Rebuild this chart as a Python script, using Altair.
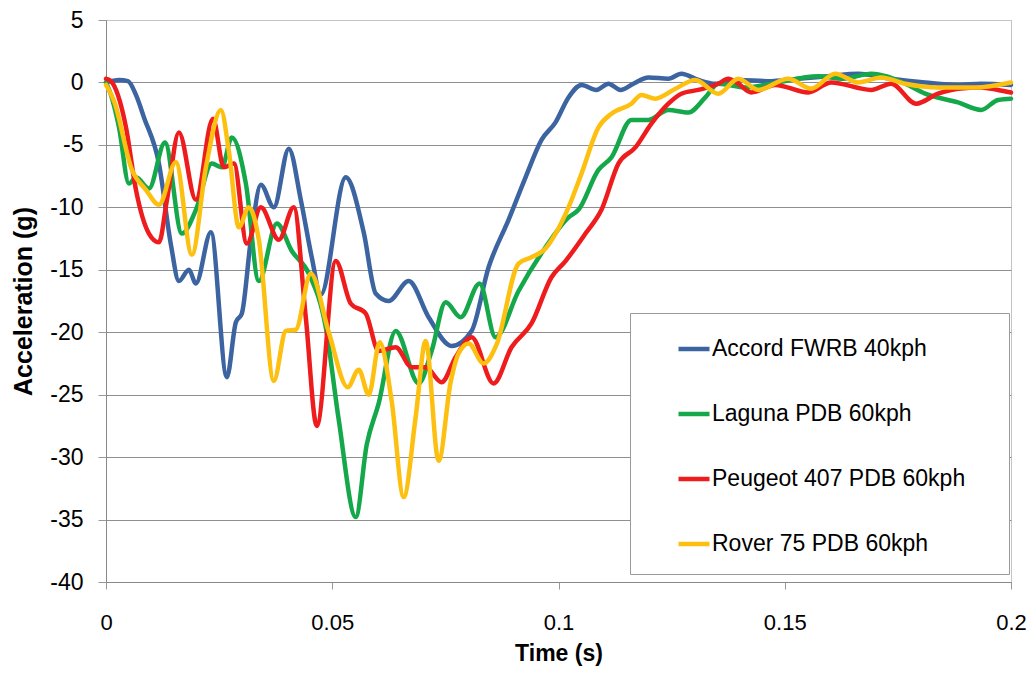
import altair as alt
import pandas as pd

SERIES = ["Accord FWRB 40kph", "Laguna PDB 60kph", "Peugeot 407 PDB 60kph", "Rover 75 PDB 60kph"]
COLORS = ["#3B64A0", "#14A84B", "#EE1C1C", "#FDC010"]

# Accord FWRB 40kph
accord_t = [0, 0.00287, 0.00486, 0.00662, 0.00839, 0.01170, 0.01435, 0.01611, 0.01832, 0.01987,
            0.02318, 0.02671, 0.02870, 0.03002, 0.03201, 0.03422, 0.03709, 0.04040, 0.04305, 0.04547,
            0.04746, 0.05298, 0.05695, 0.05960, 0.06247, 0.06689, 0.07130, 0.07638, 0.08079, 0.08455,
            0.08896, 0.09272, 0.09625, 0.09934, 0.10221, 0.10508, 0.10839, 0.11104, 0.11369, 0.11656,
            0.11987, 0.12428, 0.12715, 0.13090, 0.13466, 0.13973, 0.14636, 0.15298, 0.15960, 0.16622,
            0.17351, 0.18102, 0.18830, 0.19338, 0.20000]
accord_a = [0, 0.2, 0.1, -1.0, -2.8, -6.5, -13.0, -15.9, -15.0, -16.1,
            -12.0, -23.6, -19.2, -18.5, -12.6, -8.2, -10.0, -5.3, -9.4, -14.0,
            -17.0, -7.6, -12.0, -16.9, -17.5, -15.9, -18.8, -21.1, -19.9, -14.8,
            -11.0, -7.6, -4.6, -3.2, -1.2, -0.2, -0.6, -0.1, -0.6, -0.1,
            0.4, 0.3, 0.7, 0.2, -0.1, 0.2, 0.1, 0.3, 0.5, 0.7,
            0.3, 0.0, -0.2, -0.1, -0.2]

# Laguna PDB 60kph
laguna_t = [0, 0.00110, 0.00287, 0.00508, 0.00662, 0.00949, 0.01302, 0.01678, 0.01987, 0.02340,
            0.02561, 0.02781, 0.03091, 0.03378, 0.03775, 0.04106, 0.04481, 0.04857, 0.05143, 0.05519,
            0.05762, 0.06026, 0.06402, 0.06909, 0.07196, 0.07506, 0.07837, 0.08256, 0.08609, 0.09117,
            0.09713, 0.10221, 0.10441, 0.10883, 0.11170, 0.11611, 0.11987, 0.12428, 0.12870, 0.13245,
            0.13532, 0.14128, 0.14702, 0.15739, 0.16291, 0.16909, 0.17660, 0.18102, 0.18830, 0.19338,
            0.19713, 0.20000]
laguna_a = [0, -1.0, -3.6, -8.1, -7.6, -8.5, -4.8, -12.1, -10.2, -6.5,
            -6.8, -4.4, -8.1, -15.9, -11.3, -13.5, -15.3, -19.6, -27.0, -34.8,
            -29.0, -25.7, -19.9, -24.1, -21.5, -17.6, -18.8, -16.1, -20.4, -16.7,
            -13.2, -10.8, -10.2, -7.0, -6.0, -3.0, -3.0, -2.2, -2.4, -1.2,
            -0.1, -0.4, -0.1, 0.5, 0.3, 0.7, -0.1, -0.9, -1.6, -2.2,
            -1.4, -1.3]

# Peugeot 407 PDB 60kph
peugeot_t = [0, 0.00110, 0.00442, 0.00662, 0.00949, 0.01170, 0.01347, 0.01611, 0.01987, 0.02362,
             0.02605, 0.02826, 0.03113, 0.03422, 0.03819, 0.04150, 0.04415, 0.04658, 0.05077, 0.05408,
             0.05740, 0.06026, 0.06402, 0.06755, 0.07064, 0.07417, 0.07726, 0.08079, 0.08565, 0.08962,
             0.09404, 0.09845, 0.10155, 0.10596, 0.10949, 0.11324, 0.11700, 0.12053, 0.12428, 0.12715,
             0.13090, 0.13532, 0.13753, 0.13973, 0.14260, 0.14790, 0.15519, 0.16026, 0.16909, 0.17351,
             0.17903, 0.18388, 0.18830, 0.19338, 0.19713, 0.20000]
peugeot_a = [0.3, 0.1, -3.6, -8.6, -12.1, -12.8, -9.4, -4.0, -9.4, -2.9,
             -6.8, -6.5, -12.9, -10.0, -12.6, -10.0, -18.8, -27.5, -14.3, -17.7,
             -18.5, -21.5, -21.2, -22.8, -22.8, -24.0, -22.0, -20.4, -24.1, -21.2,
             -19.3, -15.6, -14.3, -12.1, -10.2, -6.5, -5.2, -3.3, -1.7, -0.9,
             -0.6, -0.1, 0.3, -0.1, -0.8, -0.2, -0.8, 0.0, -0.6, -0.1,
             -1.7, -0.9, -0.5, -0.4, -0.6, -0.8]

# Rover 75 PDB 60kph
rover_t = [0, 0.00177, 0.00574, 0.00883, 0.01170, 0.01545, 0.01898, 0.02208, 0.02539, 0.02715,
           0.02936, 0.03157, 0.03378, 0.03709, 0.03974, 0.04194, 0.04525, 0.04923, 0.05342, 0.05585,
           0.05806, 0.06049, 0.06313, 0.06578, 0.06843, 0.07064, 0.07351, 0.07616, 0.07792, 0.08013,
           0.08344, 0.08631, 0.09117, 0.09404, 0.09713, 0.09934, 0.10221, 0.10508, 0.10883, 0.11170,
           0.11611, 0.11832, 0.12141, 0.12583, 0.13024, 0.13532, 0.13973, 0.14415, 0.15077, 0.15585,
           0.16115, 0.16622, 0.17130, 0.17660, 0.18388, 0.19205, 0.20000]
rover_a = [-0.2, -1.5, -7.0, -8.6, -9.8, -6.4, -13.8, -6.8, -2.2, -5.5,
           -11.6, -10.0, -12.6, -23.9, -19.9, -19.8, -15.3, -20.0, -24.4, -23.0,
           -25.0, -20.8, -25.5, -33.2, -26.8, -20.7, -30.3, -24.0, -21.7, -20.9,
           -22.5, -21.0, -14.5, -14.0, -13.3, -12.1, -10.0, -7.3, -3.6, -2.5,
           -1.7, -1.0, -1.3, -0.5, 0.2, -0.9, 0.3, -0.6, 0.3, -0.5,
           0.7, 0.0, 0.4, -0.1, -0.4, -0.4, 0.0]

X_TICKS = [0, 0.05, 0.1, 0.15, 0.2]
Y_TICKS = [-40, -35, -30, -25, -20, -15, -10, -5, 0, 5]

rows = []
for name, ts, vs in zip(SERIES, [accord_t, laguna_t, peugeot_t, rover_t],
                        [accord_a, laguna_a, peugeot_a, rover_a]):
    for t, v in zip(ts, vs):
        rows.append({"series": name, "time": t, "acc": v})
df = pd.DataFrame(rows)

FONT = "Liberation Sans"

chart = alt.Chart(df).mark_line(
    interpolate="monotone", strokeWidth=4.5, strokeCap="round", strokeJoin="round"
).encode(
    x=alt.X("time:Q",
            scale=alt.Scale(domain=[0, 0.2], nice=False, zero=False),
            axis=alt.Axis(values=X_TICKS, title="Time (s)", grid=False,
                          labelExpr="datum.value + ''",
                          labelFontSize=22, labelColor="#000", labelFont=FONT,
                          labelPadding=23, tickSize=7, tickColor="#999",
                          domainColor="#888", labelFlush=False,
                          titleFont=FONT, titleFontSize=23, titleFontWeight="bold",
                          titleColor="#000", titlePadding=9)),
    y=alt.Y("acc:Q",
            scale=alt.Scale(domain=[-40, 5], nice=False, zero=False),
            axis=alt.Axis(values=Y_TICKS, title="Acceleration (g)", grid=True,
                          gridColor={"condition": {"test": "datum.value === 5", "value": "#c4c4c4"},
                                     "value": "#8f8f8f"},
                          labelExpr="datum.value + ''",
                          labelFontSize=23, labelColor="#000", labelFont=FONT,
                          labelPadding=15, tickSize=8, tickColor="#999",
                          domainColor="#888",
                          titleFont=FONT, titleFontSize=25, titleFontWeight="bold",
                          titleColor="#000", titlePadding=13)),
    color=alt.Color("series:N",
                    scale=alt.Scale(domain=SERIES, range=COLORS),
                    legend=alt.Legend(title=None, orient="none", legendX=524, legendY=293,
                                      padding=18, symbolOffset=28, fillColor="white",
                                      strokeColor="#9a9a9a", symbolType="stroke",
                                      symbolSize=961, symbolStrokeWidth=4.5,
                                      labelFont=FONT, labelFontSize=23, labelColor="#000",
                                      labelOffset=0, rowPadding=35, labelLimit=400,
                                      labelExpr="datum.label + '\u00a0\u00a0\u00a0\u00a0\u200b'")),
).properties(
    width=905, height=562,
    autosize=alt.AutoSizeParams(type="none"),
    padding={"left": 98, "top": 12, "right": 16, "bottom": 85},
).configure_view(stroke="#c4c4c4", strokeWidth=1)

chart.save("out.html", embed_options={"renderer": "svg", "actions": False})
